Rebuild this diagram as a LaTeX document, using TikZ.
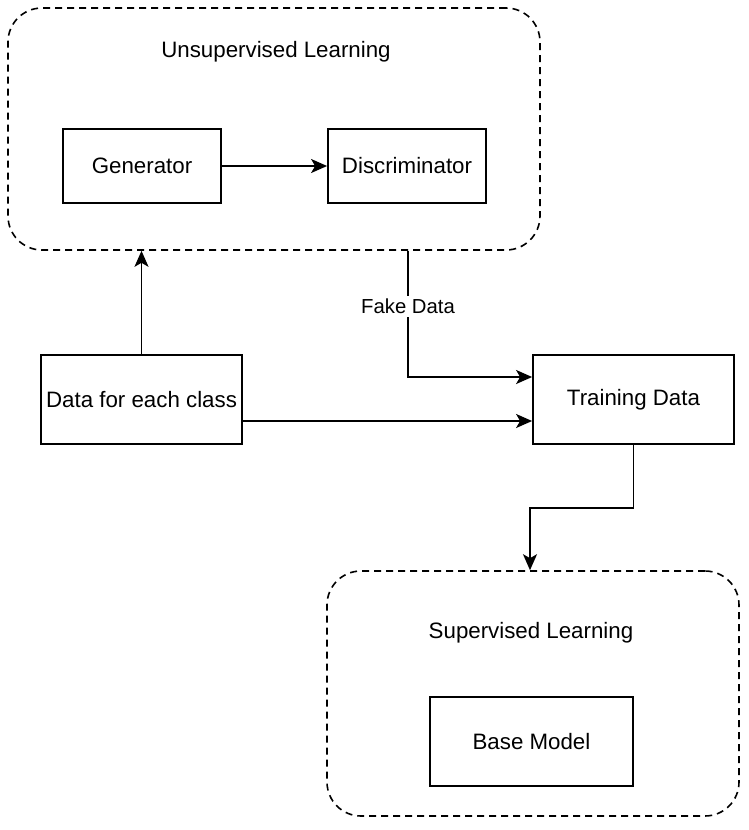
\documentclass[tikz,border=0pt]{standalone}
\usepackage{fontspec}
\setmainfont{Liberation Sans}
\usetikzlibrary{arrows.meta,calc}
\tikzset{
  box/.style={draw=black, line width=1.8pt, fill=white, rectangle, inner sep=0pt, anchor=center, font=\fontsize{22.3}{26}\selectfont},
  group/.style={draw=black, line width=1.6pt, dash pattern=on 7pt off 5pt, rounded corners=34pt, rectangle, inner sep=0pt, anchor=center},
  title/.style={font=\fontsize{22.3}{26}\selectfont, inner sep=0pt, anchor=center},
  lbl/.style={font=\fontsize{20.3}{24}\selectfont, fill=white, inner sep=3pt},
  arr/.style={line width=1.8pt, -{Stealth[length=16pt, width=14pt, inset=4pt]}},
}
\begin{document}
\begin{tikzpicture}[x=1pt, y=-1pt]
  \useasboundingbox[fill=white] (0,0) rectangle (748,830);
  % containers
  \node[group, minimum width=532pt, minimum height=242pt] (unsup) at (274,129) {};
  \node[title] (unsupt) at (276,52) {Unsupervised Learning};
  \node[group, minimum width=412pt, minimum height=245pt] (sup) at (533,693.5) {};
  \node[title] (supt) at (531,633) {Supervised Learning};
  % boxes
  \node[box, minimum width=158pt, minimum height=74pt] (gen) at (142,166) {Generator};
  \node[box, minimum width=158pt, minimum height=74pt] (disc) at (407,166) {Discriminator};
  \node[box, minimum width=201pt, minimum height=89pt] (data) at (141.5,399.5) {Data for each class};
  \node[box, minimum width=201pt, minimum height=89pt] (train) at (633.5,399.5) {Training Data};
  \node[box, minimum width=203pt, minimum height=89pt] (base) at (531.5,741.5) {Base Model};
  % connectors
  \draw[arr] (gen.east) -- (disc.west);
  \draw[arr] (data.north) -- (data.north |- unsup.south);
  \draw[arr] ($(unsup.south)+(134,0)$) |- node[lbl, pos=0.22] {Fake Data} ($(train.west)+(0,-22.5)$);
  \draw[arr] ($(data.east)+(0,21.5)$) -- ($(train.west)+(0,21.5)$);
  \draw[arr] (train.south) -- ++(0,63) -| ($(sup.north)+(-3,0)$);
\end{tikzpicture}
\end{document}
